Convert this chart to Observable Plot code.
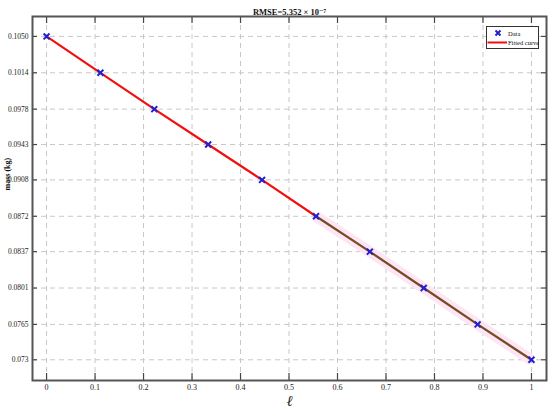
<!DOCTYPE html>
<html>
<head>
<meta charset="utf-8">
<script src="https://cdn.jsdelivr.net/npm/d3@7"></script>
<script src="https://cdn.jsdelivr.net/npm/@observablehq/plot@0.6"></script>
<style>
  html, body { margin: 0; padding: 0; background: #fff; }
  #wrap { position: relative; width: 550px; height: 412px; }
  #legend { position: absolute; left: 486px; top: 26px; }
</style>
</head>
<body>
<div id="wrap"></div>
<script>
// ---- data ----
const lenFrac = [0, 0.1111, 0.2222, 0.3333, 0.4444, 0.5556, 0.6667, 0.7778, 0.8889, 1.0];
const massData = [0.1050, 0.1014, 0.0978, 0.0943, 0.0908, 0.0872, 0.0837, 0.0801, 0.0765, 0.0730];
const xTicks = [0, 0.1, 0.2, 0.3, 0.4, 0.5, 0.6, 0.7, 0.8, 0.9, 1];
const xTickLabels = ["0", "0.1", "0.2", "0.3", "0.4", "0.5", "0.6", "0.7", "0.8", "0.9", "1"];
const yTicks = [0.1050, 0.1014, 0.0978, 0.0943, 0.0908, 0.0872, 0.0837, 0.0801, 0.0765, 0.0730];
const yTickLabels = ["0.1050", "0.1014", "0.0978", "0.0943", "0.0908", "0.0872", "0.0837", "0.0801", "0.0765", "0.073"];
const titleText = "RMSE=5.352 × 10⁻⁷";
const legendLabels = ["Data", "Fitted curve"];
const splitIndex = 5; // fitted curve changes appearance from this point on

const pts = lenFrac.map((x, i) => ({x, y: massData[i], i}));
const seg1 = pts.filter(d => d.i <= splitIndex);
const seg2 = pts.filter(d => d.i >= splitIndex);

const serif = "'Liberation Serif', 'DejaVu Serif', serif";
const W = 550, H = 412;
const mL = 32, mR = 4, mT = 16, mB = 32;
const innerW = W - mL - mR, innerH = H - mT - mB;

const chart = Plot.plot({
  width: W, height: H,
  marginLeft: mL, marginRight: mR, marginTop: mT, marginBottom: mB,
  style: {fontFamily: serif, fontSize: "8px", background: "#fff", overflow: "visible"},
  x: {domain: [-0.029, 1.031]},
  y: {domain: [0.07095, 0.10697]},
  marks: [
    Plot.gridX(xTicks, {stroke: "#c8c8c8", strokeOpacity: 1, strokeDasharray: "5,4"}),
    Plot.gridY(yTicks, {stroke: "#c8c8c8", strokeOpacity: 1, strokeDasharray: "5,4"}),
    // inward ticks
    Plot.tickX(xTicks, {x: d => d, stroke: "#444", strokeWidth: 1.2, insetTop: innerH - 7}),
    Plot.tickX(xTicks, {x: d => d, stroke: "#444", strokeWidth: 1.2, insetBottom: innerH - 7}),
    Plot.tickY(yTicks, {y: d => d, stroke: "#444", strokeWidth: 1.2, insetRight: innerW - 5}),
    Plot.tickY(yTicks, {y: d => d, stroke: "#444", strokeWidth: 1.2, insetLeft: innerW - 5}),
    Plot.axisX(xTicks, {anchor: "bottom", tickSize: 0, tickPadding: 4, label: null,
      tickFormat: (d, i) => xTickLabels[i], fontSize: 8, fill: "#222"}),
    Plot.axisY(yTicks, {anchor: "left", tickSize: 0, tickPadding: 4, label: null,
      tickFormat: (d, i) => yTickLabels[i], fontSize: 7.5, fill: "#222"}),
    // fitted curve
    Plot.line(seg2, {x: "x", y: "y", stroke: "#fce6f6", strokeWidth: 11, strokeLinecap: "butt"}),
    Plot.line(seg1, {x: "x", y: "y", stroke: "#f01010", strokeWidth: 2.2}),
    Plot.line(seg2, {x: "x", y: "y", stroke: "#7a4a1e", strokeWidth: 2.2}),
    // data
    Plot.dot(pts, {x: "x", y: "y", symbol: "times", r: 2.8, stroke: "#2020d0", strokeWidth: 2}),
    Plot.frame({stroke: "#555", strokeWidth: 2}),
    // title and labels
    Plot.text([titleText], {frameAnchor: "top", dy: -8, text: d => d, fontWeight: "bold", fontSize: 8.5, fill: "#111"}),
    Plot.text(["mass (kg)"], {frameAnchor: "left", dx: -25, dy: -8, rotate: -90, text: d => d, fontWeight: "bold", fontSize: 8, fill: "#111"}),
    Plot.text(["ℓ"], {frameAnchor: "bottom", dy: 21, lineAnchor: "middle", text: d => d, fontStyle: "italic", fontSize: 15, fill: "#222"})
  ]
});

const wrap = document.getElementById("wrap");
wrap.appendChild(chart);

// legend
const ns = "http://www.w3.org/2000/svg";
const lg = document.createElementNS(ns, "svg");
lg.setAttribute("id", "legend");
lg.setAttribute("width", 53);
lg.setAttribute("height", 24);
lg.innerHTML = `
  <rect x="0.5" y="0.5" width="52" height="22" fill="#fff" stroke="#333" stroke-width="1"/>
  <path d="M9.5,4.5 L14.5,9.5 M14.5,4.5 L9.5,9.5" stroke="#2020d0" stroke-width="2"/>
  <text x="22" y="9.5" font-family="${serif}" font-size="6.5" fill="#111">${legendLabels[0]}</text>
  <line x1="1.5" x2="21" y1="16.5" y2="16.5" stroke="#f01010" stroke-width="2"/>
  <text x="22" y="18.5" font-family="${serif}" font-size="6.5" fill="#111">${legendLabels[1]}</text>`;
wrap.appendChild(lg);
</script>
</body>
</html>
